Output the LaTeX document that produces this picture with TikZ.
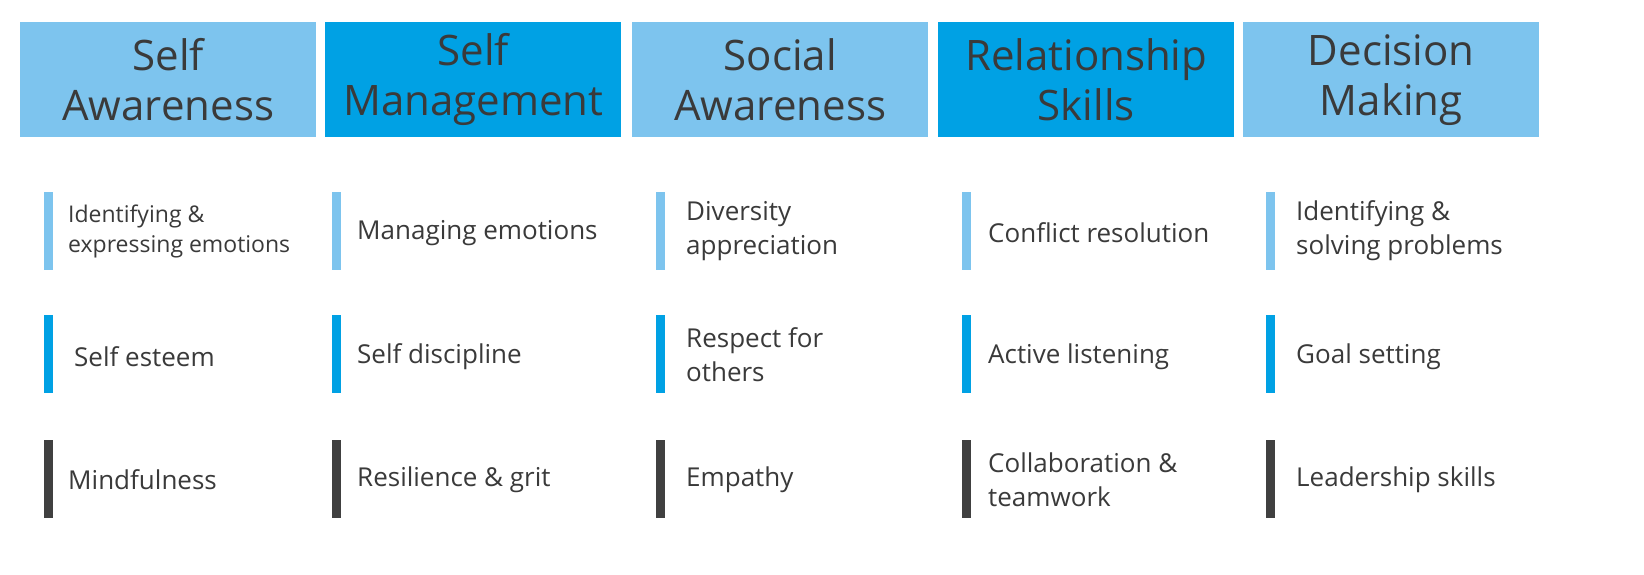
\documentclass[tikz,border=0pt]{standalone}
\usepackage{fontspec}
\setmainfont{Open Sans}
\definecolor{lb}{HTML}{7DC4EE}
\definecolor{db}{HTML}{00A1E4}
\definecolor{gr}{HTML}{404040}
\definecolor{tx}{HTML}{3A3A3A}
\begin{document}
\begin{tikzpicture}[x=1pt,y=-1pt,
  hdr/.style={minimum width=296pt,minimum height=115pt,inner sep=0pt,align=center,text=tx,font=\fontsize{42}{50}\selectfont},
  item/.style={anchor=west,align=left,text=tx,font=\fontsize{26}{34}\selectfont,inner sep=0pt}]
\fill[white] (0,0) rectangle (1644,574);
\foreach \x/\c/\t [count=\i] in {20/lb/{Self\\Awareness},325/db/{Self\\Management},632/lb/{Social\\Awareness},938/db/{Relationship\\Skills},1243/lb/{Decision\\Making}}{
  \node[hdr,fill=\c,anchor=north west] (h\i) at (\x,22) {\t};
}
\foreach \x [count=\i] in {44,332,656,962,1266}{
  \fill[lb] (\x,192) rectangle ++(9,78);
  \fill[db] (\x,315) rectangle ++(9,78);
  \fill[gr] (\x,440) rectangle ++(9,78);
}
\node[item,font=\fontsize{23}{30}\selectfont] (a1) at (68,231) {Identifying \&\\expressing emotions};
\node[item] (a2) at (74,357) {Self esteem};
\node[item] (a3) at (68,480) {Mindfulness};
\node[item] (b1) at (357,233) {Managing emotions};
\node[item] (b2) at (357,357) {Self discipline};
\node[item] (b3) at (357,480) {Resilience \& grit};
\node[item] (c1) at (686,231) {Diversity\\appreciation};
\node[item] (c2) at (686,355) {Respect for\\others};
\node[item] (c3) at (686,480) {Empathy};
\node[item] (d1) at (988,233) {Conflict resolution};
\node[item] (d2) at (988,357) {Active listening};
\node[item] (d3) at (988,480) {Collaboration \&\\teamwork};
\node[item] (e1) at (1296,231) {Identifying \&\\solving problems};
\node[item] (e2) at (1296,357) {Goal setting};
\node[item] (e3) at (1296,480) {Leadership skills};
\pgfresetboundingbox
\useasboundingbox (0,0) rectangle (1644,574);
\end{tikzpicture}
\end{document}
